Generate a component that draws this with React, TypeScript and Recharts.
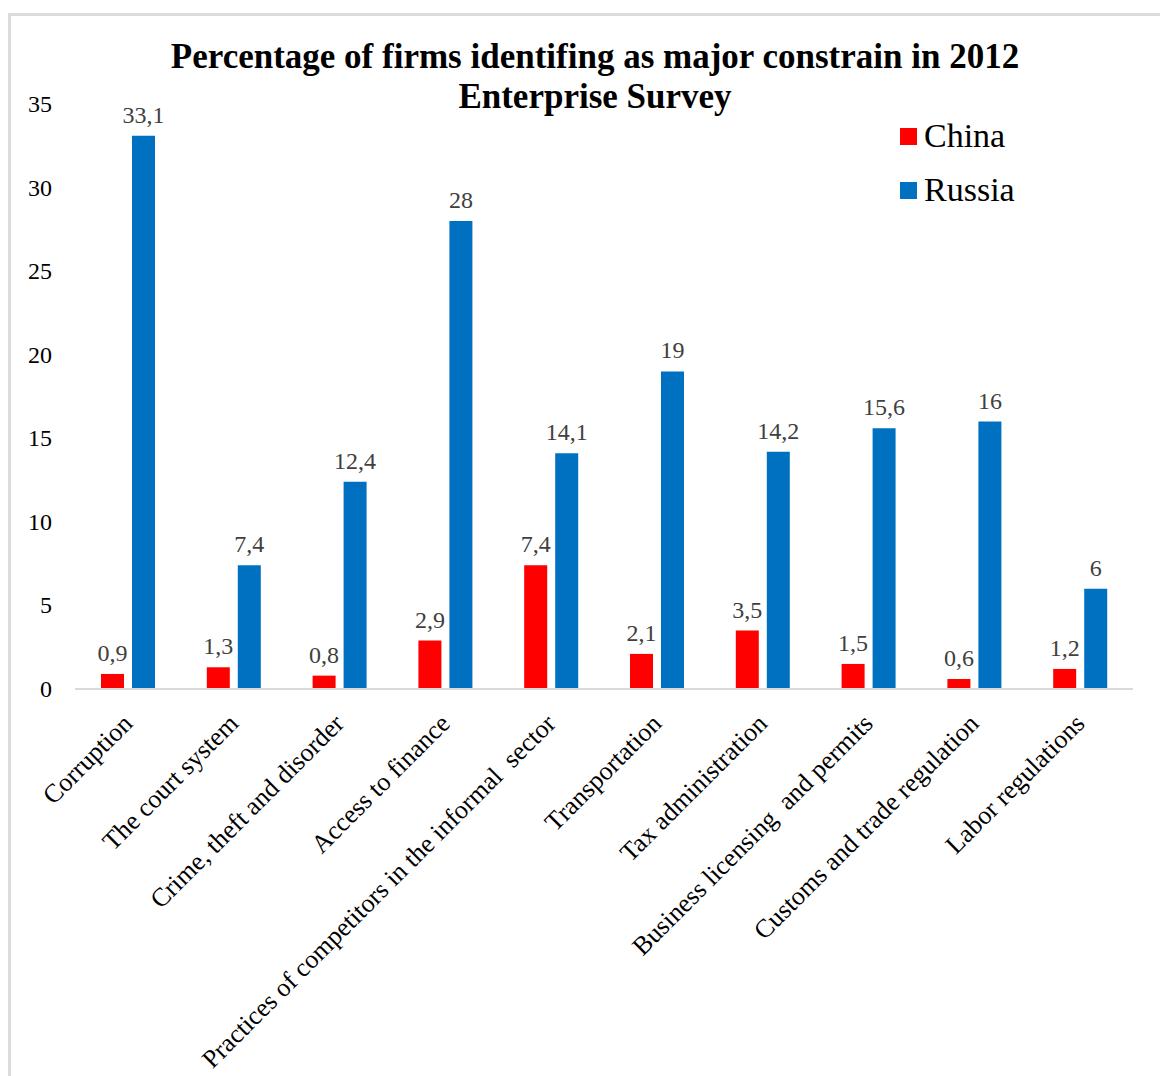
import React from "react";
import { BarChart, Bar, XAxis, YAxis, Legend, LabelList } from "recharts";

const categories = [
  "Corruption",
  "The court system",
  "Crime, theft and disorder",
  "Access to finance",
  "Practices of competitors in the informal  sector",
  "Transportation",
  "Tax administration",
  "Business licensing  and permits",
  "Customs and trade regulation",
  "Labor regulations",
];
const china = [0.9, 1.3, 0.8, 2.9, 7.4, 2.1, 3.5, 1.5, 0.6, 1.2];
const russia = [33.1, 7.4, 12.4, 28, 14.1, 19, 14.2, 15.6, 16, 6];
const yTicks = [0, 5, 10, 15, 20, 25, 30, 35];
const titleLines = ["Percentage of firms identifing as major constrain in 2012", "Enterprise Survey"];

const data = categories.map((c, i) => ({ name: c, China: china[i], Russia: russia[i] }));

const FONT = "Liberation Serif, Times New Roman, serif";
const RED = "#FF0000";
const BLUE = "#0070C0";

const fmt = (v: any) => String(v).replace(".", ",");

const XTick = (props: any) => {
  const { x, y, payload } = props;
  return (
    <g transform={`translate(${x},${y})`}>
      <text
        x={6}
        y={28}
        transform={`rotate(-45, 6, 28)`}
        textAnchor="end"
        style={{ fontFamily: FONT, fontSize: 26, whiteSpace: "pre" }}
        fill="#000"
      >
        {payload.value}
      </text>
    </g>
  );
};

const YTick = (props: any) => {
  const { x, y, payload } = props;
  return (
    <text x={x} y={y} dy={8} textAnchor="end" style={{ fontFamily: FONT, fontSize: 24 }} fill="#000">
      {payload.value}
    </text>
  );
};

const ValueLabel = (props: any) => {
  const { x, y, width, value } = props;
  return (
    <text
      x={x + width / 2}
      y={y - 13}
      textAnchor="middle"
      style={{ fontFamily: FONT, fontSize: 24 }}
      fill="#404040"
    >
      {fmt(value)}
    </text>
  );
};

const LegendContent = () => (
  <div style={{ fontFamily: FONT, fontSize: 34, color: "#000" }}>
    {[
      { n: "China", c: RED },
      { n: "Russia", c: BLUE },
    ].map((it) => (
      <div key={it.n} style={{ display: "flex", alignItems: "center", height: 54 }}>
        <span style={{ display: "inline-block", width: 17, height: 17, background: it.c, marginRight: 7 }} />
        <span>{it.n}</span>
      </div>
    ))}
  </div>
);

export default function App() {
  return (
    <div style={{ position: "relative", width: 1160, height: 1068, fontFamily: FONT }}>
      <div
        style={{
          position: "absolute",
          left: 0,
          top: 5,
          width: 1200,
          height: 1200,
          borderLeft: "3px solid #dcdcdc",
          borderTop: "3px solid #dcdcdc",
          boxSizing: "border-box",
        }}
      />
      <div style={{ position: "absolute", left: -8, top: -8 }}>
        <BarChart
          width={1168}
          height={1076}
          data={data}
          margin={{ top: 104, right: 35, bottom: 0, left: 0 }}
          barSize={23}
          barGap={8}
          style={{ fontFamily: FONT }}
        >
          <text x={595} y={68} textAnchor="middle" style={{ fontFamily: FONT, fontWeight: "bold", fontSize: 35 }} fill="#000">
            {titleLines[0]}
          </text>
          <text x={595} y={108} textAnchor="middle" style={{ fontFamily: FONT, fontWeight: "bold", fontSize: 35 }} fill="#000">
            {titleLines[1]}
          </text>
          <XAxis
            dataKey="name"
            height={387}
            interval={0}
            tickLine={false}
            axisLine={{ stroke: "#d9d9d9", strokeWidth: 2 }}
            tick={<XTick />}
          />
          <YAxis
            width={75}
            domain={[0, 35]}
            ticks={yTicks}
            axisLine={false}
            tickLine={false}
            tickSize={0}
            tickMargin={23}
            tick={<YTick />}
          />
          <Legend
            layout="vertical"
            verticalAlign="middle"
            align="center"
            wrapperStyle={{ top: 109, left: 900, width: 200 }}
            content={<LegendContent />}
          />
          <Bar dataKey="China" fill={RED} isAnimationActive={false}>
            <LabelList dataKey="China" content={<ValueLabel />} />
          </Bar>
          <Bar dataKey="Russia" fill={BLUE} isAnimationActive={false}>
            <LabelList dataKey="Russia" content={<ValueLabel />} />
          </Bar>
        </BarChart>
      </div>
    </div>
  );
}
